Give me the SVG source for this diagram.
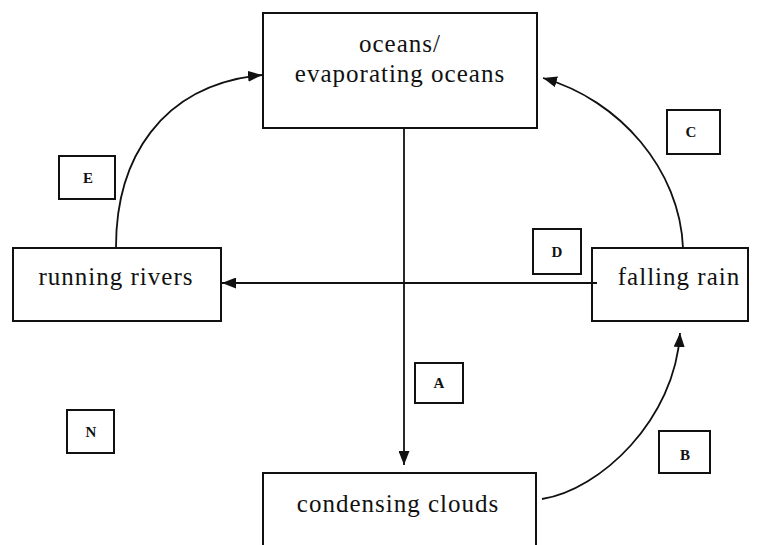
<svg xmlns="http://www.w3.org/2000/svg" width="759" height="545" viewBox="0 0 759 545">
<style>
.box{fill:#fff;stroke:#111;stroke-width:2}
.lbl{fill:#fff;stroke:#111;stroke-width:2}
.t{font-family:"Liberation Serif","Times New Roman",serif;font-size:25px;letter-spacing:1px;fill:#111;text-anchor:middle}
.s{font-family:"Liberation Serif","Times New Roman",serif;font-size:15px;font-weight:bold;fill:#111;text-anchor:middle}
.c{fill:none;stroke:#111;stroke-width:1.8}
</style>
<defs>
<marker id="ah" viewBox="0 0 14 11" refX="14" refY="5.5" markerWidth="14" markerHeight="11" markerUnits="userSpaceOnUse" orient="auto">
<path d="M0,0 L14,5.5 L0,11 Z" fill="#111"/>
</marker>
</defs>
<g id="oceans"><rect class="box" x="263" y="13" width="274" height="115"/><text class="t" x="400" y="52">oceans/</text><text class="t" x="400" y="82">evaporating oceans</text></g>
<g id="rivers"><rect class="box" x="13" y="248" width="208" height="73"/><text class="t" x="116" y="285">running rivers</text></g>
<g id="rain"><rect class="box" x="592" y="248" width="156" height="73"/><text class="t" x="679" y="285">falling rain</text></g>
<g id="clouds"><rect class="box" x="263" y="473" width="273" height="90"/><text class="t" x="398" y="512">condensing clouds</text></g>
<g id="connectors">
<path class="c" d="M404,128 L404,465" marker-end="url(#ah)"/>
<path class="c" d="M597,283 L222,283" marker-end="url(#ah)"/>
<path class="c" d="M542,499 C600,490 675,420 680,333" marker-end="url(#ah)"/>
<path class="c" d="M683,248 C680,170 620,100 543,78" marker-end="url(#ah)"/>
<path class="c" d="M116,247 C116,160 160,85 262,75" marker-end="url(#ah)"/>
</g>
<g id="label-A"><rect class="lbl" x="415" y="363" width="48" height="40"/><text class="s" x="439" y="388">A</text></g>
<g id="label-B"><rect class="lbl" x="659" y="431" width="51" height="42"/><text class="s" x="685" y="460">B</text></g>
<g id="label-C"><rect class="lbl" x="667" y="110" width="53" height="44"/><text class="s" x="691" y="137">C</text></g>
<g id="label-D"><rect class="lbl" x="533" y="229" width="48" height="45"/><text class="s" x="557" y="257">D</text></g>
<g id="label-E"><rect class="lbl" x="59" y="156" width="56" height="43"/><text class="s" x="88" y="183">E</text></g>
<g id="label-N"><rect class="lbl" x="67" y="410" width="47" height="43"/><text class="s" x="91" y="437">N</text></g>
</svg>
